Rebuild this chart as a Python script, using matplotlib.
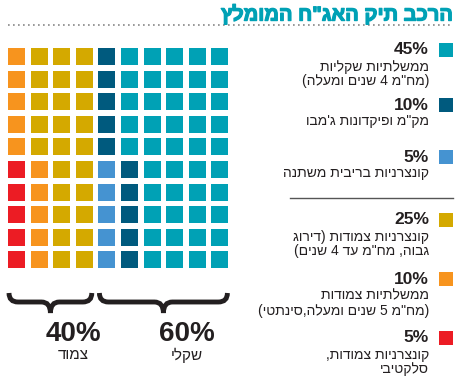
import re
import matplotlib
matplotlib.use("Agg")
import matplotlib.pyplot as plt
import matplotlib.patheffects as pe
from matplotlib.patches import Rectangle, PathPatch
from matplotlib.path import Path

plt.rcParams["font.family"] = ["Liberation Sans", "DejaVu Sans"]

# Data
title = "הרכב תיק האג\"ח המומלץ"
shares = [45, 10, 5, 25, 10, 5]
colors = ["#00a1b5", "#005a7e", "#4593d1", "#d4a900", "#f7941e", "#ec1c24"]
descriptions = [
    ["ממשלתיות שקליות", "(מח\"מ 4 שנים ומעלה)"],
    ["מק\"מ ופיקדונות ג'מבו"],
    ["קונצרניות בריבית משתנה"],
    ["קונצרניות צמודות (דירוג", "גבוה, מח\"מ עד 4 שנים)"],
    ["ממשלתיות צמודות", "(מח\"מ 5 שנים ומעלה,סינתטי)"],
    ["קונצרניות צמודות,", "סלקטיבי"],
]
group_names = ["שקלי", "צמוד"]
group_pct = [60, 40]
group_cols = [6, 4]


def rtl(s):
    # crude visual ordering for Hebrew text: reverse, keep digit runs, mirror brackets
    out = s[::-1]
    out = re.sub(r"[0-9A-Za-z%.]+", lambda m: m.group(0)[::-1], out)
    return out.translate(str.maketrans("()", ")("))


fig = plt.figure(figsize=(4.58, 3.81), dpi=100)
ax = fig.add_axes([0, 0, 1, 1])
ax.set_xlim(0, 458)
ax.set_ylim(381, 0)
ax.axis("off")

# Title and dotted rule
ax.text(453, 14.5, rtl(title), ha="right", va="center", fontsize=14.5,
        fontweight="bold", color="#00a1b5",
        path_effects=[pe.withStroke(linewidth=0.9, foreground="#00a1b5")])
ax.plot([8, 453], [25, 25], color="#888888", lw=1.2, linestyle=(0, (1, 2)))

# Waffle: fill columns right to left, each column top to bottom
left, top, pitch, cell = 8, 48, 22.6, 17
cells = []
for share, c in zip(shares, colors):
    cells += [c] * share
for i, c in enumerate(cells):
    col = 9 - i // 10
    row = i % 10
    ax.add_patch(Rectangle((left + col * pitch, top + row * pitch), cell, cell,
                           facecolor=c, edgecolor="none"))


def underbrace(x0, x1, y_top, y_mid, y_tip, r=9):
    xm = (x0 + x1) / 2
    verts = [(x0, y_top), (x0, y_mid), (x0 + r, y_mid),
             (xm - r, y_mid), (xm, y_mid), (xm, y_tip),
             (xm, y_mid), (xm + r, y_mid),
             (x1 - r, y_mid), (x1, y_mid), (x1, y_top)]
    codes = [Path.MOVETO, Path.CURVE3, Path.CURVE3,
             Path.LINETO, Path.CURVE3, Path.CURVE3,
             Path.CURVE3, Path.CURVE3,
             Path.LINETO, Path.CURVE3, Path.CURVE3]
    ax.add_patch(PathPatch(Path(verts, codes), facecolor="none",
                           edgecolor="#231f20", lw=3.5, capstyle="butt"))
    return xm


# Braces under the two groups (right group first)
col_end = 10
for name, pct, ncols in zip(group_names, group_pct, group_cols):
    col_start = col_end - ncols
    x0 = left + col_start * pitch + 1
    x1 = left + (col_end - 1) * pitch + cell - 1
    xm = underbrace(x0, x1, 293, 302, 313)
    ax.text(xm + 23, 334, f"{pct}%", ha="center", va="center", fontsize=20,
            fontweight="bold", color="#231f20")
    ax.text(xm + 23, 355, rtl(name), ha="center", va="center", fontsize=11,
            color="#231f20")
    col_end = col_start

# Legend
pct_y = [50, 105, 157, 220, 279, 338]
for share, c, lines, y in zip(shares, colors, descriptions, pct_y):
    ax.add_patch(Rectangle((439, y - 7), 14, 14, facecolor=c, edgecolor="none"))
    ax.text(429, y, f"{share}%", ha="right", va="center", fontsize=12.5,
            fontweight="bold", color="#231f20")
    for k, line in enumerate(lines):
        ax.text(429, y + 16.5 + 15 * k, rtl(line), ha="right", va="center",
                fontsize=10, color="#231f20")

ax.plot([290, 453], [198, 198], color="#555555", lw=1)

fig.savefig("out.png", dpi=100)
